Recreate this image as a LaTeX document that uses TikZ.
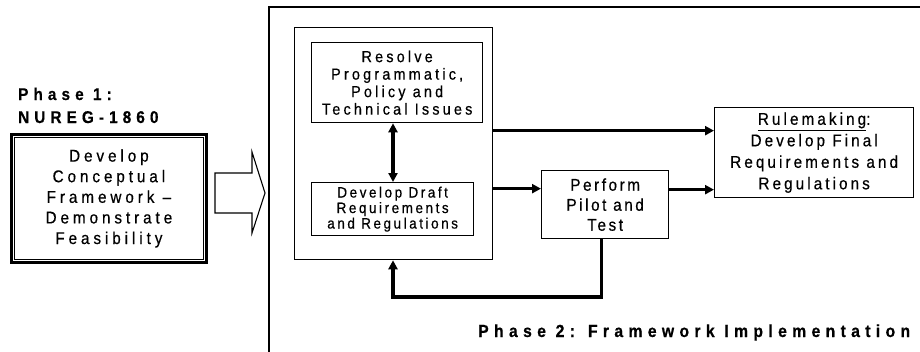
\documentclass[tikz,border=0pt]{standalone}
\usepackage{fontspec}
\setmainfont{Liberation Sans}[FakeStretch=0.9, FakeBold=0.5]
\usetikzlibrary{arrows.meta,calc}
\newcommand\trk[1]{\addfontfeature{LetterSpace=#1}}

\tikzset{
  blk/.style={draw, line width=1.3pt, align=center, inner sep=0pt, anchor=north west},
  arr/.style={line width=3.2pt, -{Triangle[length=9pt,width=9pt]}},
  biarr/.style={line width=3.2pt, {Triangle[length=9pt,width=9pt]}-{Triangle[length=9pt,width=9pt]}},
  lbl/.style={font=\bfseries\fontsize{17}{20}\selectfont\trk{30}, align=left, inner sep=0pt, anchor=base west},
}

\begin{document}
\begin{tikzpicture}[x=1pt, y=-1pt]
\useasboundingbox (0,0) rectangle (920,351);
\fill[white] (0,0) rectangle (920,351);

% Phase 2 frame, running off the right and bottom edges
\begin{scope}
  \clip (0,0) rectangle (920,351);
  \draw[line width=1.4pt] (269,7) rectangle (940,370);
\end{scope}

% Phase 1
\node[lbl] (p1a) at (18,100) {Phase 1:};
\node[lbl] (p1b) at (18,123) {NUREG-1860};
\node[blk, line width=2.8pt, minimum width=195pt, minimum height=128pt,
      font=\fontsize{17}{20.6}\selectfont\trk{23}] (p1) at (10,133)
  {Develop\\Conceptual\\Framework --\\Demonstrate\\Feasibility};
\draw[line width=0.7pt] ([shift={(4,4)}]p1.north west) rectangle ([shift={(-4,-4)}]p1.south east);

% hollow block arrow between the phases
\draw[line width=1.1pt] (215,173) -- (252,173) -- (252,152) -- (265,193) -- (252,233) -- (252,213) -- (215,213) -- cycle;

% group frame holding the two first steps
\node[draw, line width=1.3pt, minimum width=198pt, minimum height=232pt, anchor=north west, inner sep=0pt] (grp) at (294,27) {};

\node[blk, minimum width=171pt, minimum height=80pt, font=\fontsize{16}{17.5}\selectfont\trk{20}] (res) at (311,42)
  {Resolve\\Programmatic,\\Policy and\\Technical Issues};
\node[blk, minimum width=162pt, minimum height=53pt, font=\fontsize{15}{15.5}\selectfont\trk{17}] (dft) at (311,182)
  {Develop Draft\\Requirements\\and Regulations};
\node[blk, minimum width=127pt, minimum height=68pt, font=\fontsize{17}{20}\selectfont\trk{15}] (pft) at (541,170)
  {Perform\\Pilot and\\Test};
\node[blk, minimum width=199pt, minimum height=90pt, font=\fontsize{17}{21.5}\selectfont\trk{18}] (rul) at (714,107)
  {\underline{Rulemaking}:\\Develop Final\\Requirements and\\Regulations};

\coordinate (fb) at (393,297);

% connectors
\draw[biarr] (res.south -| fb) -- (dft.north -| fb);
\draw[arr] ([yshift=13pt]grp.east) -- ([yshift=13pt]grp.east -| rul.west);
\draw[arr] ([yshift=16pt]pft.west -| grp.east) -- ([yshift=16pt]pft.west);
\draw[arr] ([yshift=15pt]pft.east) -- ([yshift=15pt]pft.east -| rul.west);
\draw[arr] ([xshift=-4pt]pft.south) -- ([xshift=-4pt]pft.south |- fb) -- (fb) -- (fb |- grp.south);

\node[font=\bfseries\fontsize{17.5}{20}\selectfont\trk{30.5}, inner sep=0pt, anchor=base west] (p2) at (478,337)
  {Phase 2: Framework Implementation};
\end{tikzpicture}
\end{document}
